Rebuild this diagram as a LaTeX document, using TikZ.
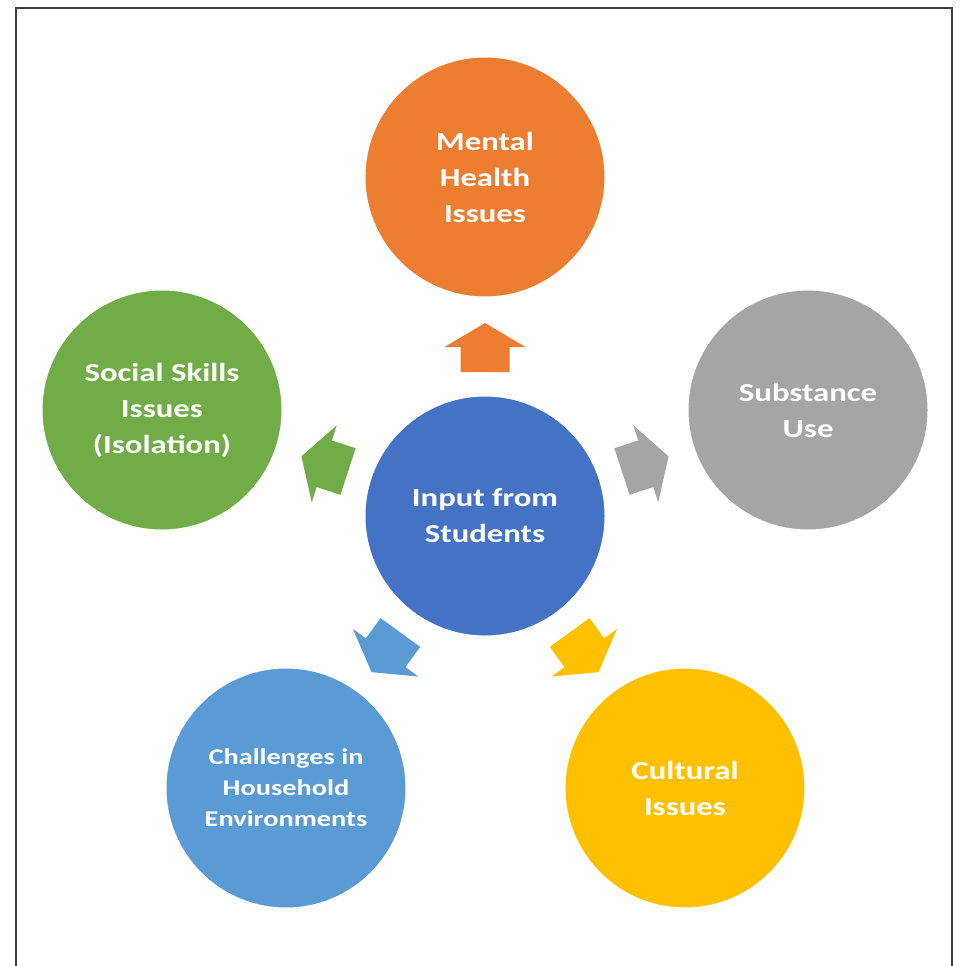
\documentclass[tikz,border=0pt]{standalone}
\usepackage{fontspec}
\setmainfont{Carlito}[FakeStretch=1.26]
\definecolor{cOrange}{HTML}{ED7D31}
\definecolor{cGray}{HTML}{A5A5A5}
\definecolor{cGreen}{HTML}{70AD47}
\definecolor{cBlue}{HTML}{4472C4}
\definecolor{cLBlue}{HTML}{5B9BD5}
\definecolor{cYellow}{HTML}{FFC000}
\definecolor{cFrame}{HTML}{404040}
\tikzset{
  bubble/.style={circle, minimum size=240pt, inner sep=0pt, draw=white, line width=1pt,
    text=white, font=\bfseries\fontsize{26}{36}\selectfont, align=center},
  smalltext/.style={font=\bfseries\fontsize{22.5}{31}\selectfont},
}
\newcommand{\blockarrow}[3]{%
  \begin{scope}[shift={(#1)}, rotate=#2]
    \fill[#3] (144pt,-24.5pt) -- (169pt,-24.5pt) -- (169pt,-40.5pt) -- (193pt,0pt)
      -- (169pt,40.5pt) -- (169pt,24.5pt) -- (144pt,24.5pt) -- cycle;
  \end{scope}}
\begin{document}
\begin{tikzpicture}[x=1pt, y=-1pt]
\useasboundingbox (0,0) rectangle (961,966);
\fill[white] (0,0) rectangle (961,966);
\draw[cFrame, line width=1.5pt] (16,966) -- (16,8) -- (952,8) -- (952,966);
\node[bubble, fill=cBlue] (c) at (485,516) {Input from\\Students};
\node[bubble, fill=cOrange] (mh) at (485,177) {Mental\\Health\\Issues};
\node[bubble, fill=cGray] (su) at (808,410) {Substance\\Use};
\node[bubble, fill=cGreen] (ss) at (162,410) {Social Skills\\Issues\\(Isolation)};
\node[bubble, smalltext, fill=cLBlue] (ch) at (286,788) {Challenges in\\Household\\Environments};
\node[bubble, fill=cYellow] (cu) at (685,788) {Cultural\\Issues};
\blockarrow{c.center}{90}{cOrange}
\blockarrow{c.center}{18}{cGray}
\blockarrow{c.center}{162}{cGreen}
\blockarrow{c.center}{234}{cLBlue}
\blockarrow{c.center}{306}{cYellow}
\end{tikzpicture}
\end{document}
